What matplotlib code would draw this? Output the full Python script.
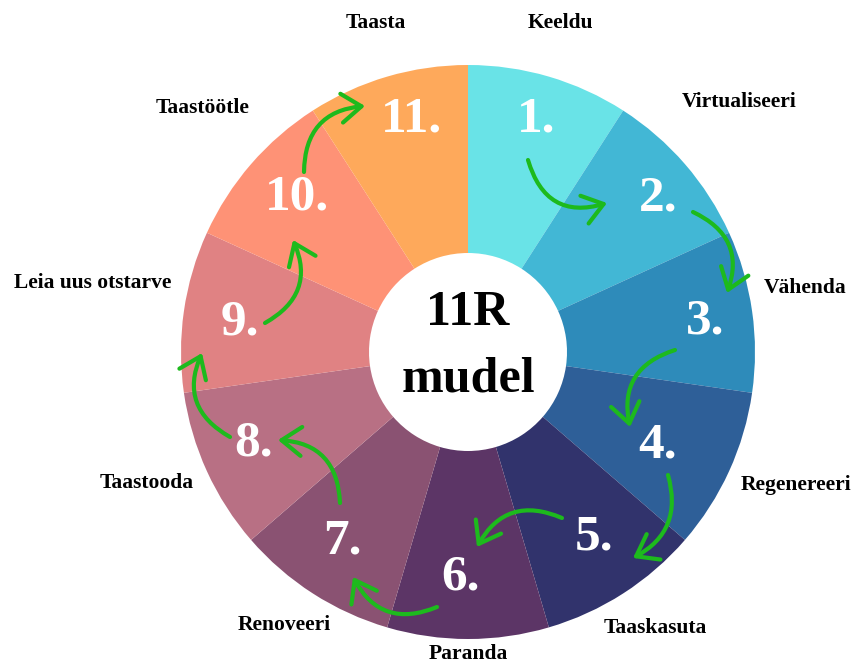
import matplotlib
matplotlib.use("Agg")
import matplotlib.pyplot as plt
from matplotlib.patches import FancyArrowPatch

# ---- data ----
steps = ["Keeldu", "Virtualiseeri", "Vähenda", "Regenereeri", "Taaskasuta",
         "Paranda", "Renoveeri", "Taastooda", "Leia uus otstarve",
         "Taastöötle", "Taasta"]
numbers = ["1.", "2.", "3.", "4.", "5.", "6.", "7.", "8.", "9.", "10.", "11."]
shares = [1] * 11
colors = ["#69E3E7", "#42B7D5", "#2E8BBA", "#2E5F98", "#31336C", "#5C3566",
          "#8A5272", "#B87084", "#E08283", "#FE9276", "#FEA95B"]

# ---- layout (pixel coordinates, y measured from top) ----
W, H = 853, 664
cx, cy = 468, 352
R_out, R_in = 287, 99

label_pos = [(560, 23), (739, 102), (805, 288), (796, 485), (655, 628),
             (468, 654), (284, 625), (147, 483), (93, 283), (203, 108),
             (376, 23)]
num_pos = [(536, 120), (658, 199), (705, 322), (658, 445), (594, 538),
           (461, 577), (342, 541), (254, 444), (240, 323), (297, 198),
           (412, 120)]
arrows = [((528, 160), (607, 203), 0.5), ((693, 212), (727, 293), -0.45),
          ((675, 350), (630, 427), 0.45), ((668, 475), (633, 558), -0.4),
          ((562, 518), (477, 547), 0.45), ((437, 607), (353, 577), -0.45),
          ((340, 503), (278, 440), 0.45), ((230, 437), (202, 353), -0.45),
          ((265, 323), (293, 240), 0.45), ((304, 172), (365, 106), -0.45)]

serif = ["Liberation Serif", "DejaVu Serif"]

fig = plt.figure(figsize=(W / 100, H / 100), dpi=100)
ax = fig.add_axes([0, 0, 1, 1])

ax.pie(shares, colors=colors, startangle=90, counterclock=False,
       radius=R_out, center=(cx, H - cy),
       wedgeprops=dict(width=R_out - R_in, linewidth=0))
ax.set_xlim(0, W)
ax.set_ylim(0, H)
ax.set_aspect("equal")
ax.axis("off")

for name, (x, y) in zip(steps, label_pos):
    ax.text(x, H - y, name, ha="center", va="center", fontsize=15.5,
            fontweight="bold", family=serif, color="black")

for num, (x, y) in zip(numbers, num_pos):
    ax.text(x, H - y, num, ha="center", va="center", fontsize=37,
            fontweight="bold", family=serif, color="white")

ax.text(cx, H - 313, "11R", ha="center", va="center", fontsize=36,
        fontweight="bold", family=serif, color="black")
ax.text(cx, H - 380, "mudel", ha="center", va="center", fontsize=36,
        fontweight="bold", family=serif, color="black")

for (s, e, rad) in arrows:
    arr = FancyArrowPatch((s[0], H - s[1]), (e[0], H - e[1]),
                          connectionstyle=f"arc3,rad={rad}",
                          arrowstyle="->,head_length=0.55,head_width=0.4",
                          mutation_scale=26, color="#1DBA1D", lw=3.0,
                          capstyle="round", joinstyle="round",
                          shrinkA=0, shrinkB=0)
    ax.add_patch(arr)

fig.savefig("out.png", dpi=100, facecolor="white")
